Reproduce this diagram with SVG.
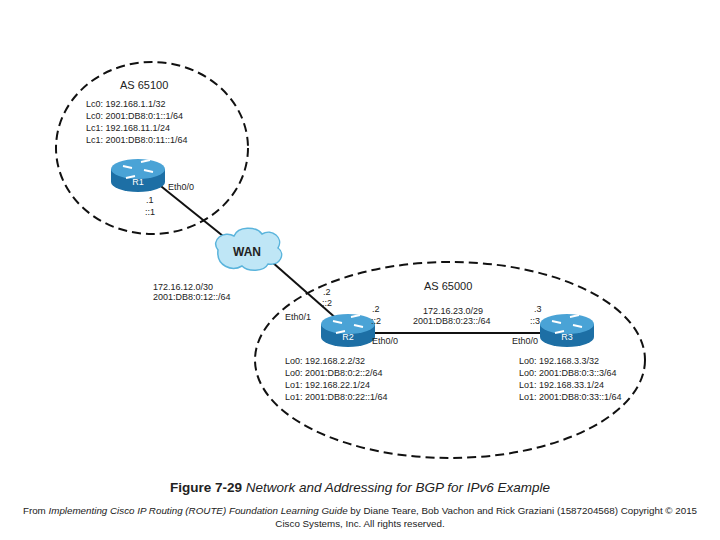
<svg xmlns="http://www.w3.org/2000/svg" width="720" height="540" viewBox="0 0 720 540">
<style>
text{font-family:"Liberation Sans",Arial,sans-serif;fill:#222}
.s{font-size:9px}
.as{font-size:11px}
.dash{fill:none;stroke:#111;stroke-width:2;stroke-dasharray:9,5}
.ln{stroke:#111;stroke-width:2}
.rl{font-size:9px;fill:#fff;text-anchor:middle}
</style>
<defs>
<g id="router">
<path d="M-27,0 v13 a27,10 0 0 0 54,0 v-13 z" fill="#1d6fa5"/>
<ellipse cx="0" cy="0" rx="27" ry="10" fill="#4aa3d6"/>
<g stroke="#fff" stroke-width="1.8" fill="#fff">
<path d="M-15,-3 l9,2 M15,3 l-9,-2 M3,-7 l9,-2 M-3,7 l-9,2"/>
</g>
</g>
</defs>
<ellipse class="dash" cx="152" cy="148" rx="96" ry="86"/>
<ellipse class="dash" cx="450" cy="360" rx="195" ry="98"/>
<g id="connectors">
<line class="ln" x1="157" y1="183" x2="228" y2="240"/>
<line class="ln" x1="272" y1="262" x2="338" y2="320"/>
<line class="ln" x1="374" y1="333" x2="542" y2="333"/>
</g>
<g id="WAN">
<path d="M218,250 c-8,-10 6,-20 16,-14 c4,-10 22,-10 28,-2 c10,-6 22,4 16,14 c8,6 2,18 -10,16 c-4,8 -20,8 -26,2 c-10,6 -26,0 -24,-16 z" fill="#bfe6f6" stroke="#5ab4dc" stroke-width="1.5"/>
<text x="247" y="256" style="font-size:12px;font-weight:bold;text-anchor:middle">WAN</text>
</g>
<g id="R1">
<use href="#router" x="138" y="169"/>
<text class="rl" x="138" y="185">R1</text>
<text class="as" x="120" y="89">AS 65100</text>
<text class="s" x="86" y="107">Lc0: 192.168.1.1/32</text>
<text class="s" x="86" y="119">Lc0: 2001:DB8:0:1::1/64</text>
<text class="s" x="86" y="131">Lc1: 192.168.11.1/24</text>
<text class="s" x="86" y="143">Lc1: 2001:DB8:0:11::1/64</text>
<text class="s" x="168" y="190">Eth0/0</text>
<text class="s" x="146" y="203">.1</text>
<text class="s" x="145" y="215">::1</text>
</g>
<g id="R2">
<use href="#router" x="348" y="324"/>
<text class="rl" x="348" y="340">R2</text>
<text class="as" x="424" y="290">AS 65000</text>
<text class="s" x="153" y="290">172.16.12.0/30</text>
<text class="s" x="153" y="300">2001:DB8:0:12::/64</text>
<text class="s" x="323" y="295">.2</text>
<text class="s" x="322" y="306">::2</text>
<text class="s" x="285" y="320">Eth0/1</text>
<text class="s" x="372" y="312">.2</text>
<text class="s" x="371" y="324">::2</text>
<text class="s" x="372" y="344">Eth0/0</text>
<text class="s" x="285" y="364">Lo0: 192.168.2.2/32</text>
<text class="s" x="285" y="376">Lo0: 2001:DB8:0:2::2/64</text>
<text class="s" x="285" y="388">Lo1: 192.168.22.1/24</text>
<text class="s" x="285" y="400">Lo1: 2001:DB8:0:22::1/64</text>
</g>
<g id="R3">
<use href="#router" x="567" y="324"/>
<text class="rl" x="567" y="340">R3</text>
<text class="s" x="423" y="314">172.16.23.0/29</text>
<text class="s" x="413" y="324">2001:DB8:0:23::/64</text>
<text class="s" x="534" y="312">.3</text>
<text class="s" x="530" y="324">::3</text>
<text class="s" x="512" y="344">Eth0/0</text>
<text class="s" x="519" y="364">Lo0: 192.168.3.3/32</text>
<text class="s" x="519" y="376">Lo0: 2001:DB8:0:3::3/64</text>
<text class="s" x="519" y="388">Lo1: 192.168.33.1/24</text>
<text class="s" x="519" y="400">Lo1: 2001:DB8:0:33::1/64</text>
</g>
<text x="360" y="492" style="font-size:13.5px;text-anchor:middle"><tspan font-weight="bold">Figure 7-29</tspan> <tspan font-style="italic">Network and Addressing for BGP for IPv6 Example</tspan></text>
<text x="360" y="514" style="font-size:9.8px;text-anchor:middle">From <tspan font-style="italic">Implementing Cisco IP Routing (ROUTE) Foundation Learning Guide</tspan> by Diane Teare, Bob Vachon and Rick Graziani (1587204568) Copyright © 2015</text>
<text x="360" y="527" style="font-size:9.8px;text-anchor:middle">Cisco Systems, Inc. All rights reserved.</text>
</svg>
